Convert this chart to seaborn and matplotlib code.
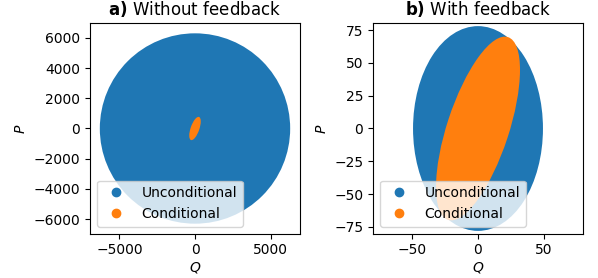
import numpy as np
import matplotlib
matplotlib.use("Agg")
import matplotlib.pyplot as plt
from matplotlib.patches import Ellipse
from matplotlib.lines import Line2D
import seaborn as sns

# Covariance of (Q, P): standard deviations and cross-covariance
titles = [r"$\bf{a)}$ Without feedback", r"$\bf{b)}$ With feedback"]
labels = ["Unconditional", "Conditional"]

# a) without feedback
unc_a_sd = [6300, 6300]
unc_a_cov = 0
cond_a_sd = [380, 770]
cond_a_cov = 177000

# b) with feedback
unc_b_sd = [49.5, 78]
unc_b_cov = 0
cond_b_sd = [32, 70]
cond_b_cov = 1428

limits = [6950, 80]

colors = sns.color_palette("tab10", 2)


def cov_ellipse(sd, cov, color):
    S = np.array([[sd[0] ** 2, cov], [cov, sd[1] ** 2]])
    vals, vecs = np.linalg.eigh(S)
    order = vals.argsort()[::-1]
    vals, vecs = vals[order], vecs[:, order]
    angle = np.degrees(np.arctan2(vecs[1, 0], vecs[0, 0]))
    return Ellipse((0, 0), 2 * np.sqrt(vals[0]), 2 * np.sqrt(vals[1]),
                   angle=angle, facecolor=color, edgecolor="none")


fig = plt.figure(figsize=(5.98, 2.78), dpi=100)
ax1 = fig.add_axes([90 / 598, 44 / 278, 210 / 598, 211 / 278])
ax2 = fig.add_axes([373 / 598, 44 / 278, 210 / 598, 211 / 278])
axes = [ax1, ax2]

panels = [
    [(unc_a_sd, unc_a_cov), (cond_a_sd, cond_a_cov)],
    [(unc_b_sd, unc_b_cov), (cond_b_sd, cond_b_cov)],
]

for ax, panel, title, lim in zip(axes, panels, titles, limits):
    for (sd, cov), c in zip(panel, colors):
        ax.add_patch(cov_ellipse(sd, cov, c))
    ax.set_xlim(-lim, lim)
    ax.set_ylim(-lim, lim)
    ax.set_aspect("equal")
    ax.set_title(title, fontsize=12)
    ax.set_xlabel(r"$Q$", labelpad=2)
    ax.set_ylabel(r"$P$")
    handles = [Line2D([], [], marker="o", linestyle="none", color=c) for c in colors]
    ax.legend(handles, labels, loc="lower left")

fig.savefig("out.png", dpi=100)
